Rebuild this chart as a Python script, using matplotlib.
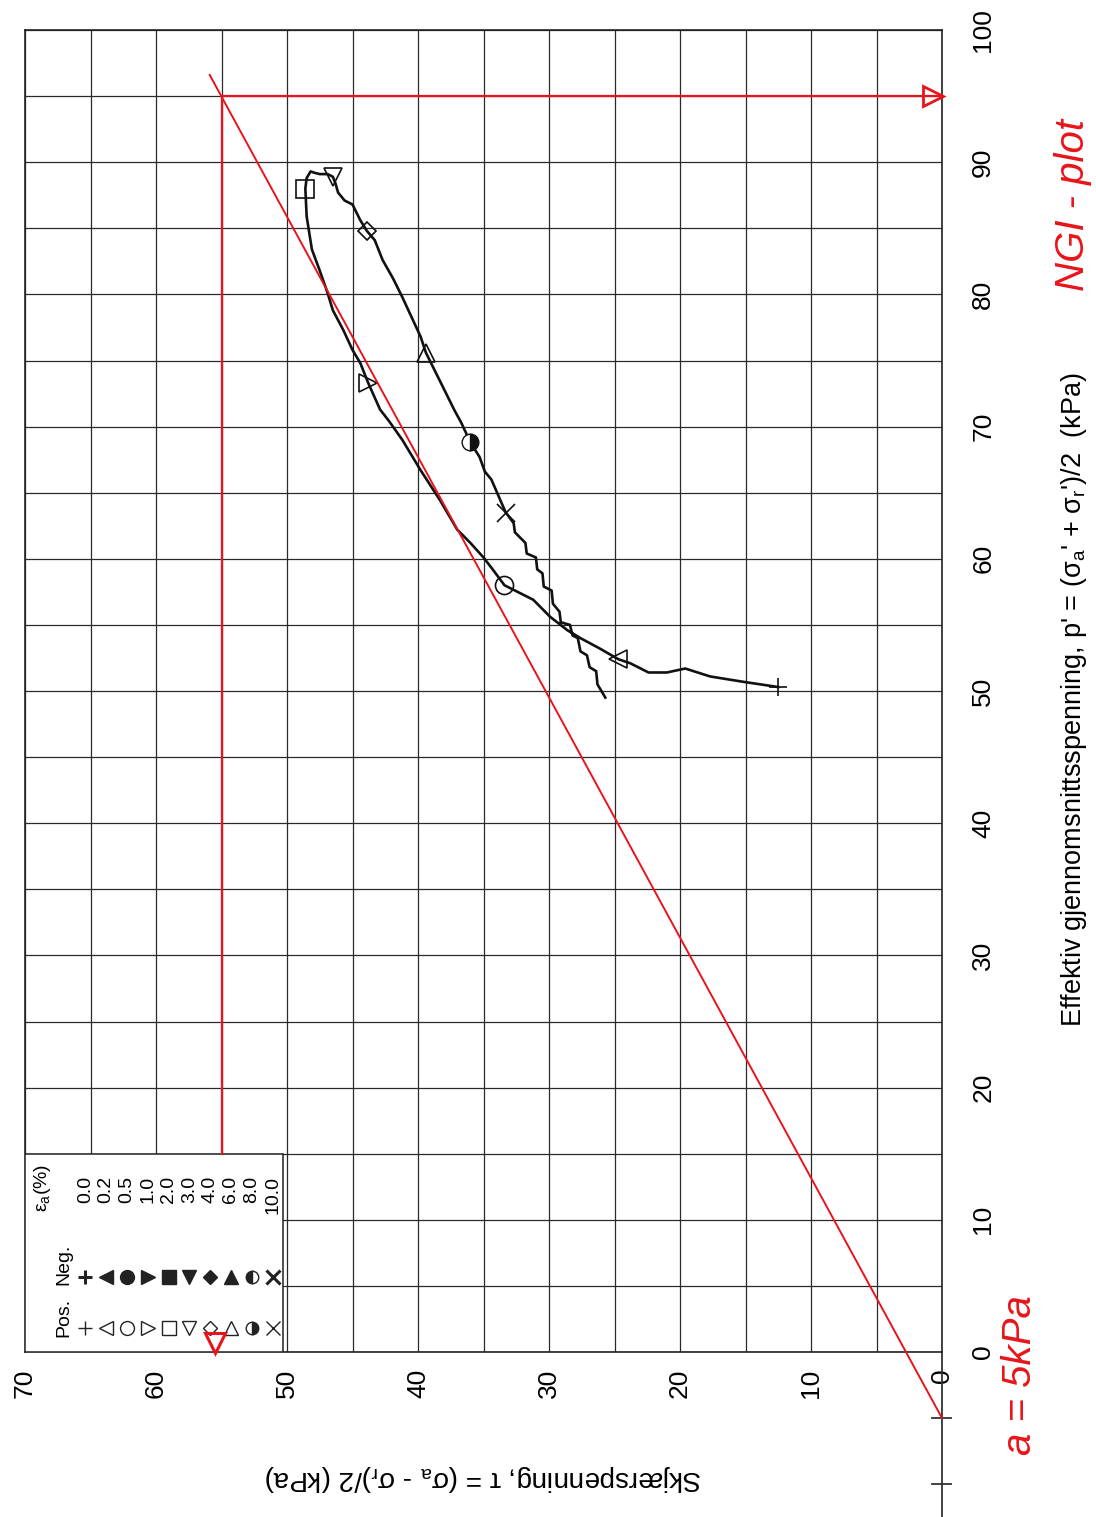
import numpy as np
import matplotlib
matplotlib.use("Agg")
import matplotlib.pyplot as plt
from matplotlib.patches import Rectangle

plt.rcParams['font.family'] = ['Liberation Sans', 'DejaVu Sans']
plt.rcParams['mathtext.fontset'] = 'custom'
plt.rcParams['mathtext.rm'] = 'Liberation Sans'

# stress path (tau, p'), from start (+) to the end of the test
tau_path = [12.5, 15.2, 17.7, 19.6, 21.0, 22.4, 23.8, 24.7, 26.1, 27.6, 28.6, 29.9,
            31.2, 32.4, 33.4, 34.3, 35.0, 36.0, 37.0, 38.3, 39.8, 41.2, 42.2, 42.9,
            43.8, 44.4, 45.0, 45.7, 46.5, 46.9, 47.5, 48.1, 48.5, 48.6, 48.5, 48.2,
            47.9, 47.5, 46.9, 46.5, 46.3, 46.1, 45.6, 45.0, 44.4, 43.9, 43.3, 42.7,
            41.9, 41.2, 40.5, 39.8, 39.4, 38.5, 37.7, 37.2, 36.7, 36.0, 35.3, 34.9,
            34.4, 33.7, 33.3, 32.7, 32.6, 31.8, 31.7, 31.0, 30.9, 30.5, 30.4, 29.8,
            29.7, 29.2, 29.1, 28.4, 28.2, 27.8, 27.6, 27.1, 26.9, 26.4, 26.3, 25.7]
p_path = [50.3, 50.7, 51.1, 51.7, 51.4, 51.4, 52.1, 52.4, 53.2, 54.0, 54.6, 55.6,
          56.9, 57.5, 58.0, 59.2, 60.1, 61.2, 62.2, 64.4, 66.7, 69.0, 70.4, 71.3,
          73.3, 74.8, 75.8, 77.3, 78.8, 80.1, 81.8, 83.4, 85.9, 88.0, 88.8, 89.3,
          89.2, 89.1, 89.1, 88.9, 88.4, 87.7, 87.1, 86.8, 85.6, 84.8, 84.1, 82.6,
          81.2, 79.8, 78.3, 76.8, 75.6, 73.8, 72.2, 71.2, 70.3, 68.8, 67.7, 66.6,
          66.0, 64.4, 63.5, 62.7, 62.0, 61.2, 60.4, 60.1, 59.2, 58.9, 57.9, 57.6,
          56.6, 56.0, 55.2, 55.0, 54.2, 54.0, 53.0, 52.7, 51.8, 51.5, 50.5, 49.5]

# strain markers
strain_labels = ['0.0', '0.2', '0.5', '1.0', '2.0', '3.0', '4.0', '6.0', '8.0', '10.0']
pos_markers = ['+', '<', 'o', '>', 's', 'v', 'D', '^', 'half', 'x']
neg_markers = ['+', '<', 'o', '>', 's', 'v', 'D', '^', 'half', 'x']
tau_mark = [12.5, 24.7, 33.4, 43.8, 48.6, 46.5, 43.9, 39.4, 36.0, 33.3]
p_mark = [50.3, 52.4, 58.0, 73.3, 88.0, 88.9, 84.8, 75.6, 68.8, 63.5]

# hand drawn failure line, a = 5 kPa
red_p = [-5.0, 96.6]
red_tau = [0.0, 55.9]
tau_max = 55.0
p_at_max = 95.0

fig = plt.figure(figsize=(10.96, 15.17), dpi=100)
ax = fig.add_axes([25 / 1096, 165 / 1517, 917 / 1096, 1322 / 1517])
ax.set_xlim(70, 0)
ax.set_ylim(0, 100)

ax.set_xticks(np.arange(0, 71, 10))
ax.set_xticks(np.arange(0, 71, 5), minor=True)
ax.set_yticks(np.arange(0, 101, 10))
ax.set_yticks(np.arange(0, 101, 5), minor=True)
ax.yaxis.tick_right()
ax.tick_params(which='both', length=0)
ax.tick_params(axis='x', pad=12, labelsize=19, labelrotation=90)
ax.tick_params(axis='y', pad=21, labelsize=19, labelrotation=90)
for lab in ax.get_yticklabels():
    lab.set_va('center')
ax.grid(which='both', color='#2a2a2a', lw=0.9)
for s in ax.spines.values():
    s.set_linewidth(1.2)
    s.set_color('#222222')

# legend box
ax.add_patch(Rectangle((50.3, 0), 19.7, 15.0, facecolor='white', edgecolor='#222222',
                       lw=1.1, zorder=3))
xs = np.linspace(65.4, 51.1, len(strain_labels))
ax.text(68.7, 12.4, 'ε$_\\mathregular{a}$(%)', rotation=90, ha='center', va='center',
        fontsize=14, zorder=4)
ax.text(67.0, 6.6, 'Neg.', rotation=90, ha='center', va='center', fontsize=14, zorder=4)
ax.text(67.0, 2.6, 'Pos.', rotation=90, ha='center', va='center', fontsize=14, zorder=4)
for x, lab, mp, mn in zip(xs, strain_labels, pos_markers, neg_markers):
    ax.text(x, 13.3, lab, rotation=90, ha='center', va='top', fontsize=14, zorder=4)
    if mp == 'half':
        ax.plot(x, 1.8, 'o', ms=9, mec='#222222', mfc='#222222', mfcalt='white',
                fillstyle='right', mew=1, zorder=4)
        ax.plot(x, 5.7, 'o', ms=9, mec='#222222', mfc='#222222', mfcalt='white',
                fillstyle='left', mew=1, zorder=4)
    else:
        ms = 7 if mp == 'D' else 10
        ax.plot(x, 1.8, mp, ms=ms, mec='#222222', mfc='none', mew=1, zorder=4)
        ax.plot(x, 5.7, mp, ms=ms, mec='#222222', mfc='#222222',
                mew=2.2 if mn in '+x' else 1, zorder=4)

# stress path
ax.plot(tau_path, p_path, color='#111111', lw=1.9, zorder=5)
for t, p, m in zip(tau_mark, p_mark, pos_markers):
    if m == 'half':
        ax.plot(t, p, 'o', ms=12, mec='#111111', mfc='#111111', mfcalt='white',
                fillstyle='right', mew=1, zorder=6)
    else:
        ax.plot(t, p, m, ms=9 if m == 'D' else 13, mec='#111111', mfc='none',
                mew=1.2, zorder=6)

# red hand annotations
red = '#e8141b'
ax.plot(red_tau, red_p, color=red, lw=1.4, clip_on=False, zorder=7)
ax.plot([tau_max, tau_max], [15.0, p_at_max], color=red, lw=1.6, zorder=7)
ax.plot([tau_max, 0], [p_at_max, p_at_max], color=red, lw=1.6, zorder=7)
ax.plot(0.7, p_at_max, '>', ms=14, mec=red, mfc='none', mew=2, clip_on=False, zorder=8)
ax.plot(55.5, 0.7, 'v', ms=14, mec=red, mfc='none', mew=2.2, clip_on=False, zorder=8)

# extension of tau = 0 axis below p' = 0
ax.plot([0, 0], [0, -12.6], color='#333333', lw=1.3, clip_on=False)
for pt in [-5, -10]:
    ax.plot([-0.7, 0.8], [pt, pt], color='#333333', lw=1.3, clip_on=False)

fig.text(483 / 1096, 1 - 1478 / 1517,
         'Skjærspenning, τ = (σ$_\\mathregular{a}$ - σ$_\\mathregular{r}$)/2 (kPa)',
         rotation=180, ha='center', va='center', fontsize=20)
fig.text(1074 / 1096, 1 - 700 / 1517,
         "Effektiv gjennomsnittsspenning, p' = (σ$_\\mathregular{a}$' + σ$_\\mathregular{r}$')/2  (kPa)",
         rotation=90, ha='center', va='center', fontsize=19.5)
fig.text(1020 / 1096, 1 - 1375 / 1517, 'a = 5kPa', rotation=90, ha='center', va='center',
         fontsize=29, color=red, style='italic')
fig.text(1073 / 1096, 1 - 205 / 1517, 'NGI - plot', rotation=90, ha='center', va='center',
         fontsize=29, color=red, style='italic')

fig.savefig('out.png', dpi=100, facecolor='white')
